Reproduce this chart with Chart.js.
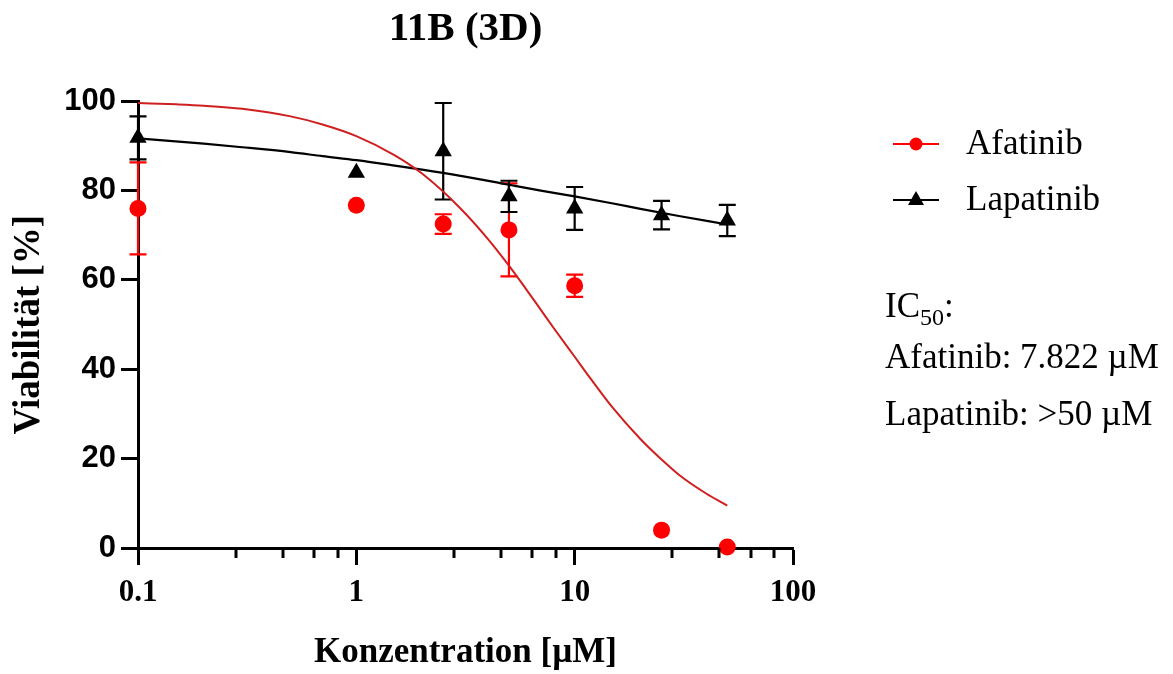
<!DOCTYPE html>
<html>
<head>
<meta charset="utf-8">
<script src="https://cdn.jsdelivr.net/npm/chart.js@4.4.1/dist/chart.umd.min.js"></script>
<style>
  html, body { margin: 0; padding: 0; background: #fff; }
  #wrap { width: 1173px; height: 674px; }
</style>
</head>
<body>
<div id="wrap"><canvas id="chart" width="1173" height="674"></canvas></div>
<script>
// concentrations (µM) and viability (%)
const conc = [0.1, 1, 2.5, 5, 10, 25, 50];
const afaMean = [76.0, 76.7, 72.5, 71.2, 58.7, 4.0, 0.2];
const afaSd   = [10.3, 0, 2.2, 10.4, 2.5, 0, 0];
const lapMean = [91.8, 84.0, 88.8, 78.7, 76.0, 74.5, 73.3];
const lapSd   = [4.8, 0, 10.8, 3.5, 4.8, 3.2, 3.5];

// fitted curves
const afaFitX = [0.1, 0.15, 0.2, 0.3, 0.5, 0.7, 1, 1.5, 2, 3, 4, 5, 6, 7, 8, 10, 12, 15, 20, 25, 30, 40, 50];
const afaFitY = [99.6, 99.3, 99.0, 98.3, 96.6, 94.8, 92.2, 87.9, 83.8, 76.0, 69.2, 63.2, 57.9, 53.3, 49.3, 42.8, 37.5, 31.3, 24.4, 19.8, 16.4, 12.2, 9.5];
const lapFitX = [0.1, 0.2, 0.3, 0.5, 0.7, 1, 1.5, 2, 3, 5, 7, 10, 15, 20, 30, 50];
const lapFitY = [91.7, 90.5, 89.7, 88.6, 87.7, 86.8, 85.6, 84.7, 83.3, 81.3, 80.0, 78.7, 77.1, 75.9, 74.3, 72.4];

const xMajor = [0.1, 1, 10, 100];
const xMinor = [0.28, 0.46, 0.64, 0.82, 2.8, 4.6, 6.4, 8.2, 28, 46, 64, 82];
const yTicks = [0, 20, 40, 60, 80, 100];

const RED = '#ff0000', RED_FIT = '#d01f1f', BLACK = '#000000';

Chart.defaults.color = '#000';
Chart.defaults.font.family = 'Liberation Serif';

const pts = (xs, ys) => xs.map((x, i) => ({ x, y: ys[i] }));

// error bars under the markers
const errorBars = {
  id: 'errorBars',
  beforeDatasetsDraw(chart) {
    const { ctx, scales: { x, y } } = chart;
    chart.data.datasets.forEach(ds => {
      if (!ds.errors) return;
      ctx.save();
      ctx.strokeStyle = ds.barColor;
      ctx.lineWidth = 2.2;
      ds.data.forEach((p, i) => {
        const e = ds.errors[i];
        if (!e) return;
        const px = x.getPixelForValue(p.x);
        const top = y.getPixelForValue(p.y + e), bot = y.getPixelForValue(p.y - e);
        ctx.beginPath();
        ctx.moveTo(px, top); ctx.lineTo(px, bot);
        ctx.moveTo(px - 8.5, top); ctx.lineTo(px + 8.5, top);
        ctx.moveTo(px - 8.5, bot); ctx.lineTo(px + 8.5, bot);
        ctx.stroke();
      });
      ctx.restore();
    });
  }
};

// minor ticks of the log axis
const minorTicks = {
  id: 'minorTicks',
  afterDraw(chart) {
    const { ctx, scales: { x }, chartArea } = chart;
    ctx.save();
    ctx.strokeStyle = BLACK;
    ctx.lineWidth = 3;
    xMinor.forEach(v => {
      const px = Math.round(x.getPixelForValue(v));
      ctx.beginPath();
      ctx.moveTo(px, chartArea.bottom);
      ctx.lineTo(px, chartArea.bottom + 10);
      ctx.stroke();
    });
    ctx.restore();
  }
};

// legend + IC50 note on the right
const sideText = {
  id: 'sideText',
  afterDraw(chart) {
    const { ctx } = chart;
    const f = '35px "Liberation Serif"';
    ctx.save();
    ctx.fillStyle = BLACK;
    ctx.font = f;
    ctx.textBaseline = 'alphabetic';
    // Afatinib
    ctx.strokeStyle = RED; ctx.lineWidth = 2;
    ctx.beginPath(); ctx.moveTo(893, 144); ctx.lineTo(939, 144); ctx.stroke();
    ctx.fillStyle = RED;
    ctx.beginPath(); ctx.arc(916, 144, 6.5, 0, Math.PI * 2); ctx.fill();
    ctx.fillStyle = BLACK;
    ctx.fillText('Afatinib', 966, 154);
    // Lapatinib
    ctx.strokeStyle = BLACK;
    ctx.beginPath(); ctx.moveTo(893, 200); ctx.lineTo(939, 200); ctx.stroke();
    ctx.beginPath(); ctx.moveTo(916, 191); ctx.lineTo(924, 205); ctx.lineTo(908, 205); ctx.closePath(); ctx.fill();
    ctx.fillText('Lapatinib', 966, 210);
    // IC50
    ctx.fillText('IC', 885, 317);
    const w = ctx.measureText('IC').width;
    ctx.font = '24px "Liberation Serif"';
    ctx.fillText('50', 885 + w, 325);
    const w2 = ctx.measureText('50').width;
    ctx.font = f;
    ctx.fillText(':', 885 + w + w2, 317);
    ctx.fillText('Afatinib: 7.822 µM', 885, 368);
    ctx.fillText('Lapatinib: >50 µM', 885, 425);
    ctx.restore();
  }
};

new Chart(document.getElementById('chart'), {
  type: 'line',
  data: {
    datasets: [
      {
        label: 'Afatinib',
        data: pts(conc, afaMean),
        errors: afaSd, barColor: RED,
        showLine: false, pointStyle: 'circle', pointRadius: 8.5, pointBorderWidth: 0,
        pointBackgroundColor: RED, pointBorderColor: RED, clip: false
      },
      {
        label: 'Lapatinib',
        data: pts(conc, lapMean),
        errors: lapSd, barColor: BLACK,
        showLine: false, pointStyle: 'triangle', pointRadius: 10, pointBorderWidth: 0,
        pointBackgroundColor: BLACK, pointBorderColor: BLACK, clip: false
      },
      {
        label: 'Afatinib fit',
        data: pts(afaFitX, afaFitY),
        borderColor: RED_FIT, borderWidth: 2, pointRadius: 0,
        cubicInterpolationMode: 'monotone', fill: false, clip: false
      },
      {
        label: 'Lapatinib fit',
        data: pts(lapFitX, lapFitY),
        borderColor: BLACK, borderWidth: 2.2, pointRadius: 0,
        cubicInterpolationMode: 'monotone', fill: false, clip: false
      }
    ]
  },
  options: {
    responsive: false,
    animation: false,
    devicePixelRatio: 1,
    layout: { padding: { left: 0, right: 380, top: 0, bottom: 0 } },
    plugins: {
      legend: { display: false },
      tooltip: { enabled: false },
      title: {
        display: true, text: '11B (3D)', fullSize: false, color: '#000',
        font: { family: 'Liberation Serif', size: 41, weight: 'bold' },
        padding: { top: 5, bottom: 47 }
      }
    },
    scales: {
      x: {
        type: 'logarithmic', min: 0.1, max: 100,
        afterBuildTicks: s => { s.ticks = xMajor.map(v => ({ value: v })); },
        afterFit: s => { s.height = 126; },
        ticks: {
          autoSkip: false, maxRotation: 0, padding: 9, color: '#000',
          font: { family: 'Liberation Serif', size: 31, weight: 'bold' },
          callback: v => String(v)
        },
        grid: { drawOnChartArea: false, drawTicks: true, tickLength: 17, tickWidth: 3, tickColor: BLACK },
        border: { color: BLACK, width: 3 },
        title: {
          display: true, text: 'Konzentration [µM]', color: '#000',
          font: { family: 'Liberation Serif', size: 35, weight: 'bold' },
          padding: { top: 0, bottom: 0 }
        }
      },
      y: {
        min: 0, max: 100,
        afterBuildTicks: s => { s.ticks = yTicks.map(v => ({ value: v })); },
        afterFit: s => { s.width = 138; },
        ticks: {
          padding: 5, color: '#000',
          font: { family: 'Liberation Sans', size: 31, weight: 'bold' }
        },
        grid: { drawOnChartArea: false, drawTicks: true, tickLength: 17, tickWidth: 3, tickColor: BLACK },
        border: { color: BLACK, width: 3 },
        title: {
          display: true, text: 'Viabilität [%]', color: '#000',
          font: { family: 'Liberation Serif', size: 37, weight: 'bold' },
          padding: { top: 7, bottom: 0 }
        }
      }
    }
  },
  plugins: [errorBars, minorTicks, sideText]
});
</script>
</body>
</html>
